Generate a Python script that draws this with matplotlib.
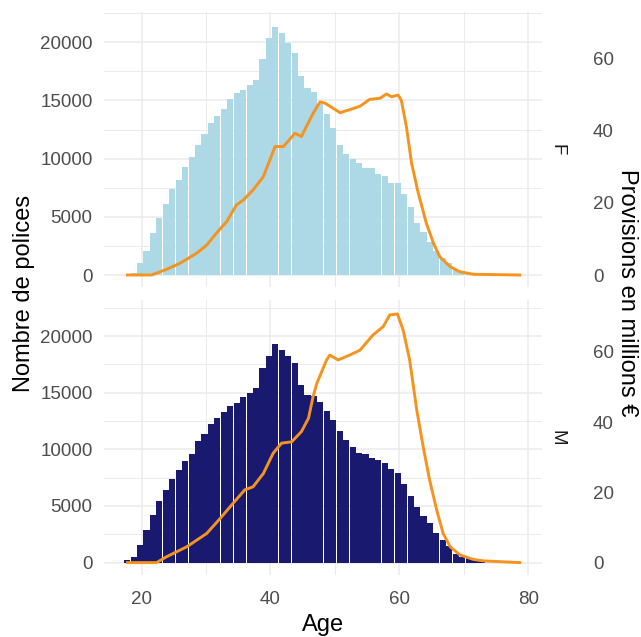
import matplotlib
matplotlib.use('Agg')
import matplotlib.pyplot as plt
import numpy as np

plt.rcParams['font.family'] = ['Liberation Sans', 'DejaVu Sans']

# Number of policies per age (bars)
ages = np.arange(17, 74)
polices_F = [0, 200, 1000, 2100, 3600, 4900, 6100, 7400, 8200, 9300,
             10100, 11200, 12100, 13100, 13700, 14300, 15100, 15600, 15900, 16300,
             16800, 18600, 20400, 21300, 20800, 19900, 19100, 17100, 16100, 15700,
             14700, 13800, 12650, 11200, 10400, 10000, 9600, 9200, 9200, 8700,
             8500, 7900, 7900, 7000, 5850, 4500, 3700, 2800, 2100, 1500,
             1000, 450, 150, 60, 30, 10, 0]
polices_M = [200, 500, 1550, 2900, 4200, 5400, 6400, 7400, 8200, 9000,
             9600, 10700, 11350, 12200, 12800, 13250, 13800, 14100, 14600, 15000,
             15400, 17200, 18200, 19300, 18800, 18200, 17600, 15700, 14800, 14700,
             14200, 13400, 12600, 11600, 10800, 10200, 9700, 9600, 9200, 9100,
             8800, 8300, 7900, 6900, 5900, 4900, 4100, 3500, 2650, 2000,
             1450, 800, 500, 400, 200, 150, 0]

# Provisions in millions EUR (line, secondary axis)
age_line_F = [17.8, 21.5, 22.3, 23.9, 25.9, 28.5, 30.1, 31.6, 33.2, 34.7,
              35.8, 37.3, 38.9, 39.9, 40.7, 42.0, 43.8, 44.8, 46.6, 47.7,
              48.5, 50.8, 52.4, 53.9, 55.4, 57.0, 58.0, 58.8, 59.8, 60.3,
              61.1, 61.9, 62.9, 64.2, 65.3, 66.3, 67.9, 69.4, 71.5, 78.7]
prov_F = [0, 0, 0.5, 1.6, 3.2, 6.0, 8.3, 11.6, 14.8, 19.4,
          20.8, 23.6, 27.3, 31.9, 35.6, 35.6, 39.3, 38.4, 44.8, 48.0,
          47.6, 45.0, 45.9, 46.8, 48.7, 49.0, 50.2, 49.4, 49.9, 48.5,
          41.1, 31.0, 23.0, 14.3, 8.8, 5.0, 2.3, 0.9, 0.2, 0]
age_line_M = [17.8, 22.3, 23.9, 27.0, 30.1, 32.2, 34.2, 36.0, 37.3, 38.9,
              40.4, 41.7, 43.3, 44.8, 45.9, 46.6, 47.2, 48.7, 49.2, 50.5,
              52.3, 53.9, 55.9, 57.5, 58.5, 59.7, 60.6, 61.6, 62.7, 63.7,
              64.7, 65.8, 66.8, 67.9, 69.4, 71.5, 73.0, 78.7]
prov_M = [0, 0, 1.7, 4.5, 8.3, 12.6, 16.9, 20.7, 21.6, 25.4,
          31.1, 34.0, 34.4, 37.3, 41.1, 47.2, 51.1, 57.7, 59.1, 57.7,
          59.1, 60.5, 64.8, 67.2, 70.5, 70.8, 66.2, 57.7, 43.5, 33.0,
          23.5, 15.0, 8.3, 4.5, 2.2, 0.9, 0.5, 0]

ratio = 310  # secondary axis scaling

panels = [
    ('F', polices_F, age_line_F, prov_F, 'lightblue', (-1005, 22630)),
    ('M', polices_M, age_line_M, prov_M, 'midnightblue', (-1094, 23180)),
]

fig = plt.figure(figsize=(6.41, 6.37), dpi=100)
W, H = 641, 637
left, right = 104.3, 541.7
tops = [11.7, 300]
ph = 275

grid_col = '#EBEBEB'
txt_col = '#4D4D4D'
orange = '#F5931E'

for i, (lab, counts, la, prov, col, ylim) in enumerate(panels):
    ax = fig.add_axes([left / W, 1 - (tops[i] + ph) / H, (right - left) / W, ph / H])
    ax.set_xlim(14.2, 82.1)
    ax.set_ylim(*ylim)
    ax.set_yticks([0, 5000, 10000, 15000, 20000])
    ax.set_yticks([2500, 7500, 12500, 17500, 22500], minor=True)
    ax.set_xticks([20, 40, 60, 80])
    ax.set_xticks([30, 50, 70], minor=True)
    ax.grid(which='major', color=grid_col, lw=1.1)
    ax.grid(which='minor', color=grid_col, lw=0.7)
    ax.set_axisbelow(True)
    for s in ax.spines.values():
        s.set_visible(False)
    ax.tick_params(which='both', length=0, labelsize=13.5, labelcolor=txt_col)
    ax.tick_params(axis='y', pad=8.4)
    ax.tick_params(axis='x', pad=11.4)
    if i == 0:
        ax.tick_params(axis='x', labelbottom=False)

    ax.bar(ages + 0.75, counts, width=0.95, color=col, linewidth=0, antialiased=False)

    # strip label
    ax.text(1.036, 0.5, lab, transform=ax.transAxes, rotation=270,
            ha='center', va='center', fontsize=13.5, color='#1A1A1A')

    # secondary axis
    ax2 = ax.twinx()
    ax2.set_ylim(ylim[0] / ratio, ylim[1] / ratio)
    ax2.plot(la, prov, color=orange, lw=2.1, solid_joinstyle='round')
    ax2.set_yticks([0, 20, 40, 60])
    for s in ax2.spines.values():
        s.set_visible(False)
    ax2.tick_params(length=0, labelsize=13.5, labelcolor=txt_col, pad=37)

fig.text(24 / W, 1 - 293 / H, 'Nombre de polices', rotation=90,
         ha='center', va='center', fontsize=17)
fig.text(627 / W, 1 - 293 / H, 'Provisions en millions €', rotation=270,
         ha='center', va='center', fontsize=17)
fig.text(323 / W, 1 - 631 / H, 'Age', ha='center', va='baseline', fontsize=17)

fig.savefig('out.png', dpi=100)
